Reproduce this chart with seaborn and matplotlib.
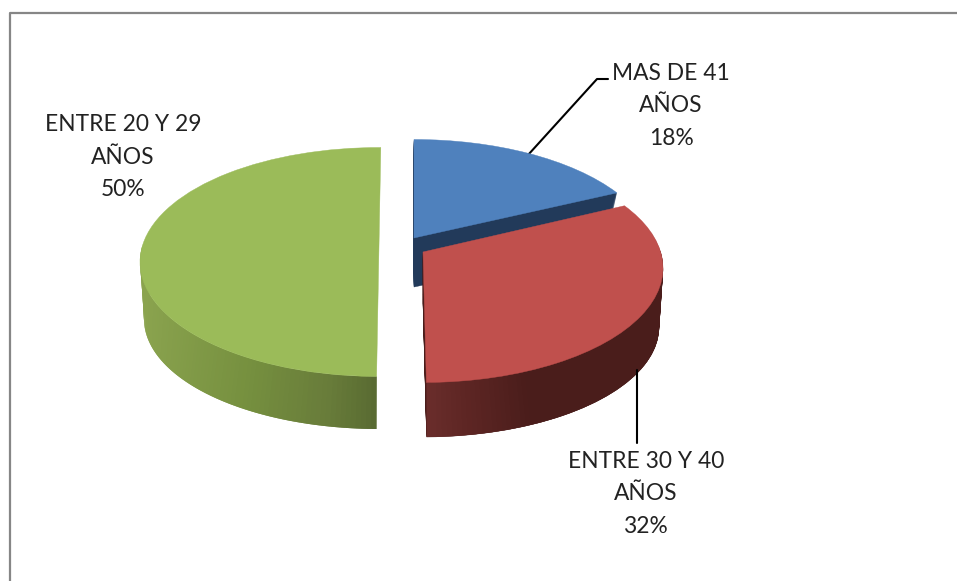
import numpy as np
import matplotlib
matplotlib.use("Agg")
import matplotlib.pyplot as plt
from matplotlib.transforms import Transform
from matplotlib.colors import to_rgb
import seaborn as sns

# ---- data ----
categories = ["MAS DE 41\nAÑOS", "ENTRE 30 Y 40\nAÑOS", "ENTRE 20 Y 29\nAÑOS"]
values = [18, 32, 50]
top_colors = ["#4F81BD", "#C0504D", "#9BBB59"]
cut_colors = ["#223A5A", "#4A1D1B", None]

# ---- layout (pixels of the 957x581 canvas) ----
W, H = 957, 581
CENTERS = [(414, 254), (423, 268), (379, 262)]
ROTATION = [0.0, 0.7, -0.5]
RXS = [240, 240, 239]
RY = 114.5
DEPTHS = [57, 59, 57]
BOTTOM_SHRINK_X, BOTTOM_RY = 4, 110
K_TOP, K_BOTTOM = 0.14, 0.218
LABEL_POS = [(671, 106), (646, 494), (123, 157)]
SIDE_STOPS = [
    None,
    [(426, "#6A2D2B"), (470, "#5C2523"), (525, "#4A1D1B"), (665, "#4A1D1B")],
    [(140, "#8BA44F"), (250, "#76903F"), (330, "#687C3A"), (378, "#586A31")],
]


class DiscProjection(Transform):
    """Tilted-disc view: maps the unit disc of a pie onto a canvas ellipse."""
    input_dims = output_dims = 2
    has_inverse = False

    def __init__(self, i, z):
        super().__init__()
        self.cx, self.cy = CENTERS[i]
        self.rx0 = RXS[i]
        self.drop = DEPTHS[i]
        self.z = z
        self.rot = np.deg2rad(ROTATION[i])

    def transform_non_affine(self, values):
        xy = np.asarray(values, float)
        c, s = np.cos(self.rot), np.sin(self.rot)
        u = c * xy[:, 0] - s * xy[:, 1]
        v = s * xy[:, 0] + c * xy[:, 1]
        z = self.z
        k = K_TOP + (K_BOTTOM - K_TOP) * z
        rx = self.rx0 - BOTTOM_SHRINK_X * z
        ry = RY + (BOTTOM_RY - RY) * z
        w = 1 + k * v
        px = self.cx + rx * np.sqrt(1 - k * k) * u / w
        py = self.cy + self.drop * z - ry * (v + k) / w
        return np.column_stack([px, py])


sns.set_theme(style="white")
plt.rcParams["font.family"] = ["Lato", "DejaVu Sans"]

fig = plt.figure(figsize=(W / 100, H / 100), dpi=100, facecolor="white")
ax = fig.add_axes([0, 0, 1, 1])


def draw_wedge(i, z, color, zorder):
    wedges, _ = ax.pie(values, startangle=90, counterclock=False,
                       colors=[color] * len(values), radius=1,
                       wedgeprops=dict(linewidth=0))
    for j, wd in enumerate(wedges):
        if j == i:
            wd.set_transform(DiscProjection(i, z) + ax.transData)
            wd.set_edgecolor(color)
            wd.set_linewidth(0.3)
            wd.set_zorder(zorder)
        else:
            wd.remove()


angles = 90 - np.cumsum([0] + values) * 3.6
for i in range(len(values)):
    # solid body: gives the cut faces that show
    if cut_colors[i] is not None:
        for z in np.linspace(1, 0, DEPTHS[i])[:-1]:
            draw_wedge(i, z, cut_colors[i], 1 + i)
    # shaded outer wall on the front half of the disc (-180..0 degrees)
    stops = SIDE_STOPS[i]
    if stops is not None:
        xs = [s[0] for s in stops]
        rgb = np.array([to_rgb(s[1]) for s in stops])
        lo_w, hi_w = max(angles[i + 1], -180), min(angles[i], 0)
        th = np.deg2rad(np.linspace(lo_w, hi_w, 90))
        pts = np.column_stack([np.cos(th), np.sin(th)])
        a = DiscProjection(i, 0).transform(pts)
        b = DiscProjection(i, 1).transform(pts)
        for n in range(len(th) - 1):
            mx = (a[n, 0] + a[n + 1, 0]) / 2
            col = [np.interp(mx, xs, rgb[:, c]) for c in range(3)]
            # each strip reaches under the next one, so no seams show
            m = min(n + 2, len(th) - 1)
            ax.fill([a[n, 0], a[m, 0], b[m, 0], b[n, 0]],
                    [a[n, 1], a[m, 1], b[m, 1], b[n, 1]],
                    facecolor=col, edgecolor="none", lw=0, zorder=1.5 + i)
    draw_wedge(i, 0, top_colors[i], 1.8 + i)

# leader lines
ax.plot([528, 597, 608], [155, 79, 79], color="black", lw=1.5, zorder=0.5)
ax.plot([637, 637], [370, 443], color="black", lw=1.5, zorder=5)

# labels
for (x, y), cat, val in zip(LABEL_POS, categories, values):
    ax.text(x, y, f"{cat}\n{val}%", ha="center", va="center", fontsize=16.4,
            color="#222222", linespacing=1.7, zorder=6)

# chart frame
ax.plot([9.5, 9.5, W], [H, 12.5, 12.5], color="#868686", lw=1.6, zorder=6, clip_on=False)

ax.set_aspect("auto")
ax.set_xlim(0, W)
ax.set_ylim(H, 0)
ax.axis("off")
fig.savefig("out.png", dpi=100, facecolor="white")
